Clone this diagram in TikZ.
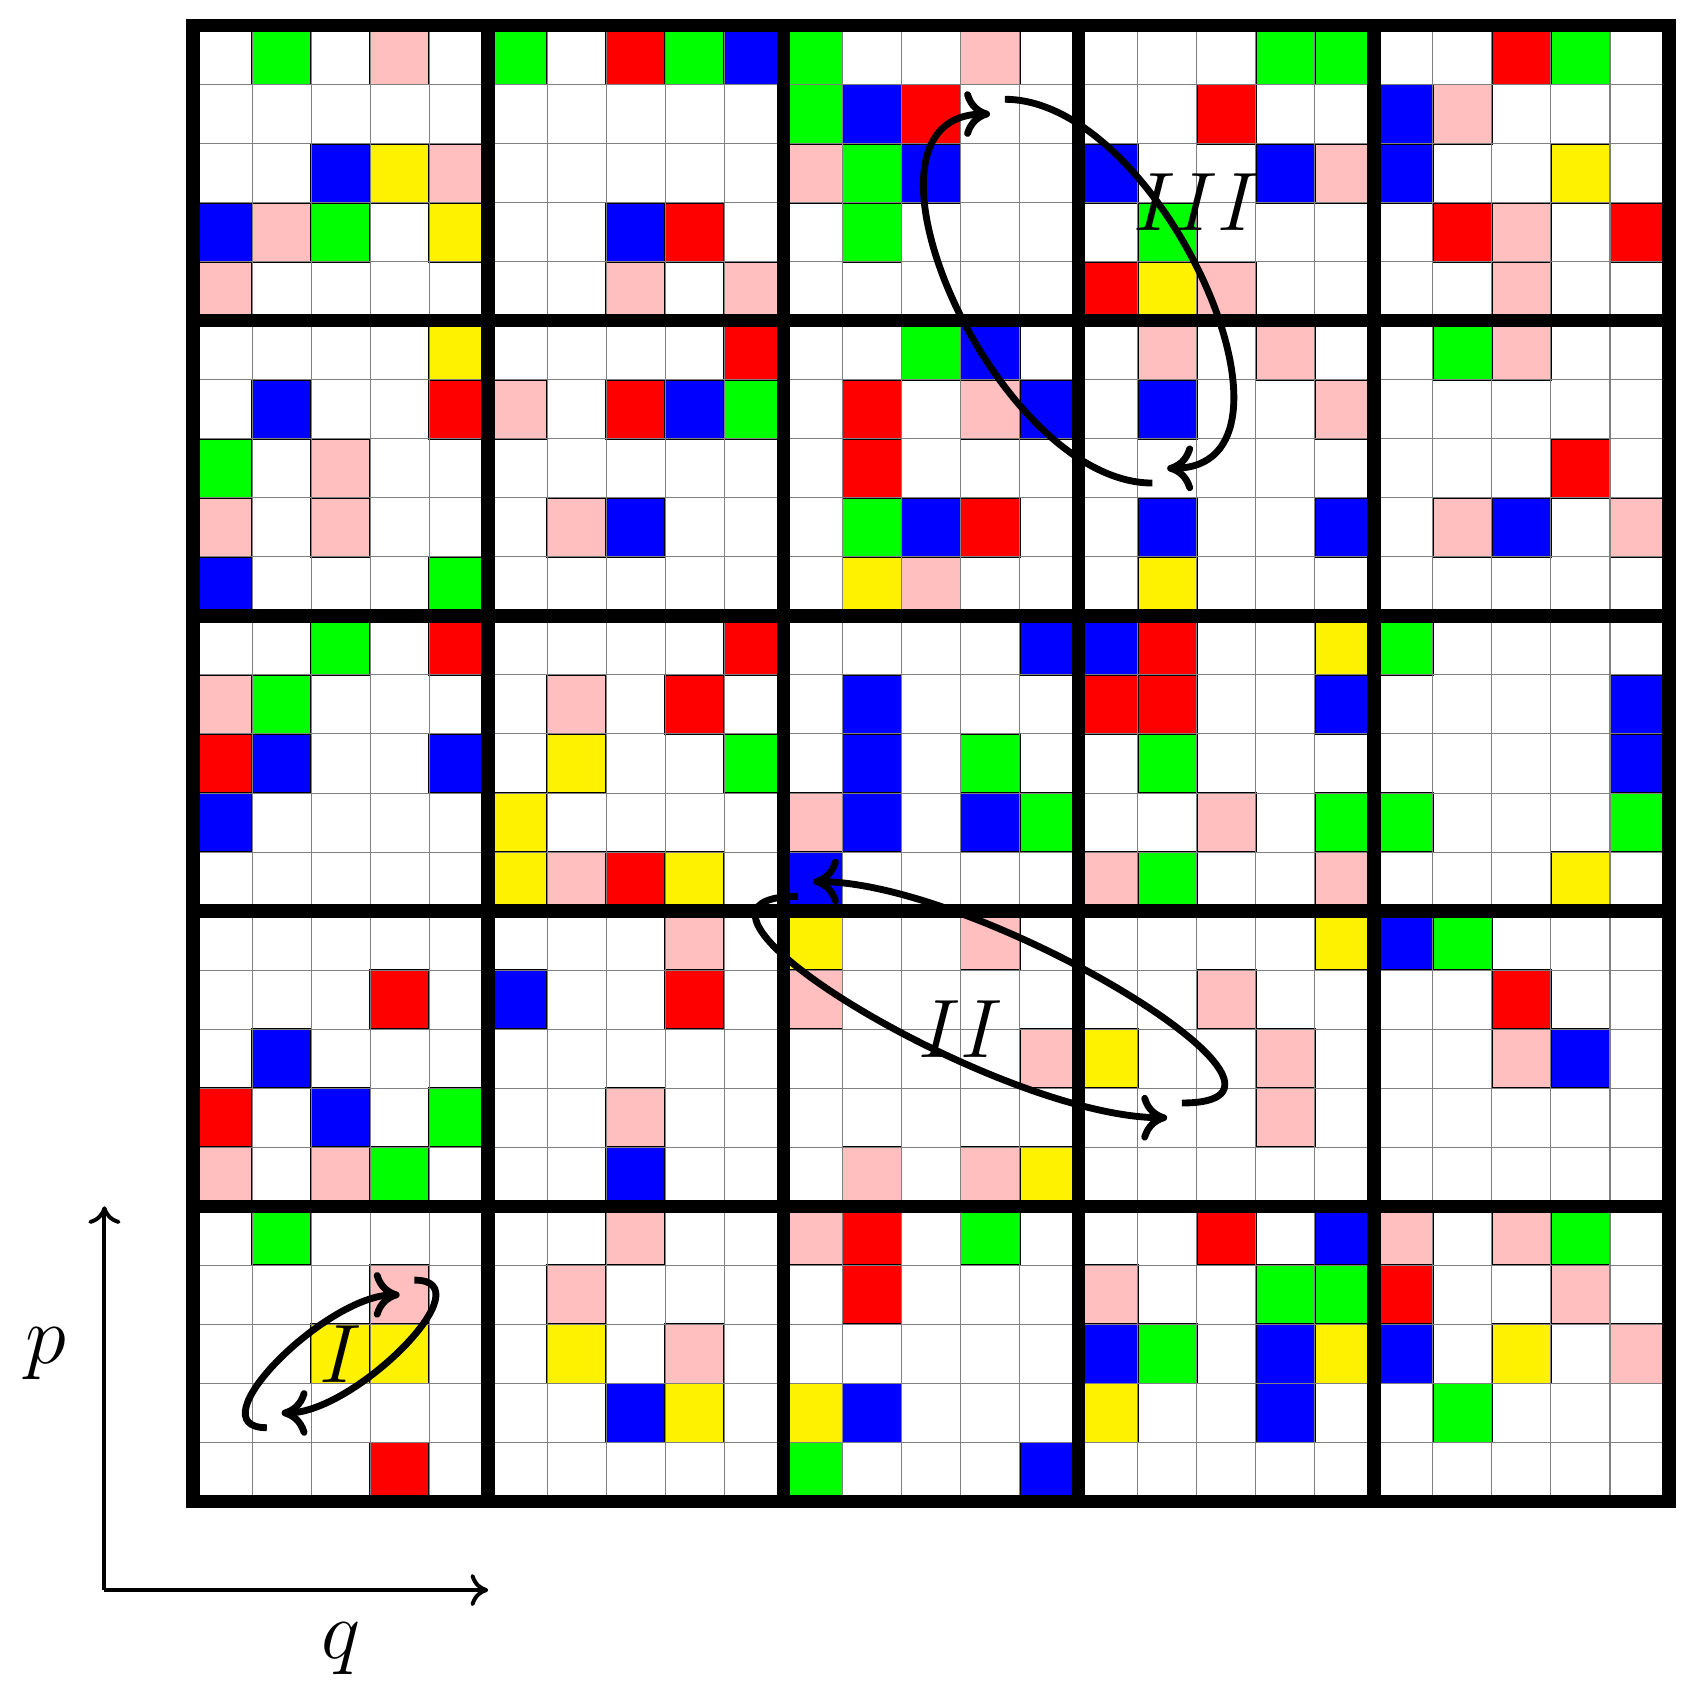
\RequirePackage{fix-cm}
\documentclass[tikz,border=0pt]{standalone}
\usetikzlibrary{arrows.meta}
\definecolor{cg}{RGB}{0,255,0}
\definecolor{cr}{RGB}{255,0,0}
\definecolor{cb}{RGB}{0,0,255}
\definecolor{cy}{RGB}{255,242,0}
\definecolor{cp}{RGB}{255,191,191}
\tikzset{
  cellbox/.style={draw=black, line width=0.9pt},
  thin grid/.style={draw=gray, line width=0.5pt},
  block line/.style={line width=0.23cm},
  axis arrow/.style={-{To[length=8.5pt,width=15.5pt]}, line width=1.9pt},
  loop arrow/.style={-{To[length=12.5pt,width=22pt]}, line width=3.3pt},
  biglabel/.style={font=\fontsize{40}{48}\selectfont, inner sep=0pt}
}
\newcommand\gridrow[2]{%
  \foreach \c [count=\i from 0] in {#2}{%
    \if w\c\relax\else
      \filldraw[cellbox, fill=c\c] (\i,24-#1) rectangle ++(1,1);
    \fi
  }}
\begin{document}
\begin{tikzpicture}
\useasboundingbox (-3.269,-3.227) rectangle (25.457,25.432);
\gridrow{0}{w,g,w,p,w, g,w,r,g,b, g,w,w,p,w, w,w,w,g,g, w,w,r,g,w}
\gridrow{1}{w,w,w,w,w, w,w,w,w,w, g,b,r,w,w, w,w,r,w,w, b,p,w,w,w}
\gridrow{2}{w,w,b,y,p, w,w,w,w,w, p,g,b,w,w, b,w,w,b,p, b,w,w,y,w}
\gridrow{3}{b,p,g,w,y, w,w,b,r,w, w,g,w,w,w, w,g,w,w,w, w,r,p,w,r}
\gridrow{4}{p,w,w,w,w, w,w,p,w,p, w,w,w,w,w, r,y,p,w,w, w,w,p,w,w}
\gridrow{5}{w,w,w,w,y, w,w,w,w,r, w,w,g,b,w, w,p,w,p,w, w,g,p,w,w}
\gridrow{6}{w,b,w,w,r, p,w,r,b,g, w,r,w,p,b, w,b,w,w,p, w,w,w,w,w}
\gridrow{7}{g,w,p,w,w, w,w,w,w,w, w,r,w,w,w, w,w,w,w,w, w,w,w,r,w}
\gridrow{8}{p,w,p,w,w, w,p,b,w,w, w,g,b,r,w, w,b,w,w,b, w,p,b,w,p}
\gridrow{9}{b,w,w,w,g, w,w,w,w,w, w,y,p,w,w, w,y,w,w,w, w,w,w,w,w}
\gridrow{10}{w,w,g,w,r, w,w,w,w,r, w,w,w,w,b, b,r,w,w,y, g,w,w,w,w}
\gridrow{11}{p,g,w,w,w, w,p,w,r,w, w,b,w,w,w, r,r,w,w,b, w,w,w,w,b}
\gridrow{12}{r,b,w,w,b, w,y,w,w,g, w,b,w,g,w, w,g,w,w,w, w,w,w,w,b}
\gridrow{13}{b,w,w,w,w, y,w,w,w,w, p,b,w,b,g, w,w,p,w,g, g,w,w,w,g}
\gridrow{14}{w,w,w,w,w, y,p,r,y,w, b,w,w,w,w, p,g,w,w,p, w,w,w,y,w}
\gridrow{15}{w,w,w,w,w, w,w,w,p,w, y,w,w,p,w, w,w,w,w,y, b,g,w,w,w}
\gridrow{16}{w,w,w,r,w, b,w,w,r,w, p,w,w,w,w, w,w,p,w,w, w,w,r,w,w}
\gridrow{17}{w,b,w,w,w, w,w,w,w,w, w,w,w,w,p, y,w,w,p,w, w,w,p,b,w}
\gridrow{18}{r,w,b,w,g, w,w,p,w,w, w,w,w,w,w, w,w,w,p,w, w,w,w,w,w}
\gridrow{19}{p,w,p,g,w, w,w,b,w,w, w,p,w,p,y, w,w,w,w,w, w,w,w,w,w}
\gridrow{20}{w,g,w,w,w, w,w,p,w,w, p,r,w,g,w, w,w,r,w,b, p,w,p,g,w}
\gridrow{21}{w,w,w,p,w, w,p,w,w,w, w,r,w,w,w, p,w,w,g,g, r,w,w,p,w}
\gridrow{22}{w,w,y,y,w, w,y,w,p,w, w,w,w,w,w, b,g,w,b,y, b,w,y,w,p}
\gridrow{23}{w,w,w,w,w, w,w,b,y,w, y,b,w,w,w, y,w,w,b,w, w,g,w,w,w}
\gridrow{24}{w,w,w,r,w, w,w,w,w,w, g,w,w,w,b, w,w,w,w,w, w,w,w,w,w}
\draw[thin grid] (0,0) grid (25,25);
\foreach \k in {5,10,15,20}{
  \draw[block line] (\k,0) -- (\k,25);
  \draw[block line] (0,\k) -- (25,\k);
}
\draw[block line] (0,0) rectangle (25,25);
% axes
\coordinate (O) at (-1.5,-1.5);
\coordinate (Ptop) at (-1.5,5);
\coordinate (Qend) at (5,-1.5);
\draw[axis arrow] (O) -- (Ptop);
\draw[axis arrow] (O) -- (Qend);
\node[biglabel] (lp) at (-2.5,2.5) {$p$};
\node[biglabel] (lq) at (2.5,-2.5) {$q$};
% loop I
\coordinate (a1) at (3.75,3.75); \coordinate (a2) at (1.5,1.5);
\coordinate (b1) at (1.25,1.25); \coordinate (b2) at (3.5,3.5);
\draw[loop arrow] (a1) to[out=0,in=0] (a2);
\draw[loop arrow] (b1) to[out=180,in=180] (b2);
\node[biglabel] (lI) at (2.5,2.5) {$I$};
% loop II
\coordinate (c1) at (16.75,6.75); \coordinate (c2) at (10.5,10.5);
\coordinate (d1) at (10.25,10.25); \coordinate (d2) at (16.5,6.5);
\draw[loop arrow] (c1) to[out=0,in=0] (c2);
\draw[loop arrow] (d1) to[out=180,in=180] (d2);
\node[biglabel] (lII) at (13,8) {$II$};
% loop III
\coordinate (e1) at (13.75,23.75); \coordinate (e2) at (16.5,17.5);
\coordinate (f1) at (16.25,17.25); \coordinate (f2) at (13.5,23.5);
\draw[loop arrow] (e1) to[out=0,in=0] (e2);
\draw[loop arrow] (f1) to[out=180,in=180] (f2);
\node[biglabel] (lIII) at (17,22) {$III$};
\end{tikzpicture}
\end{document}
